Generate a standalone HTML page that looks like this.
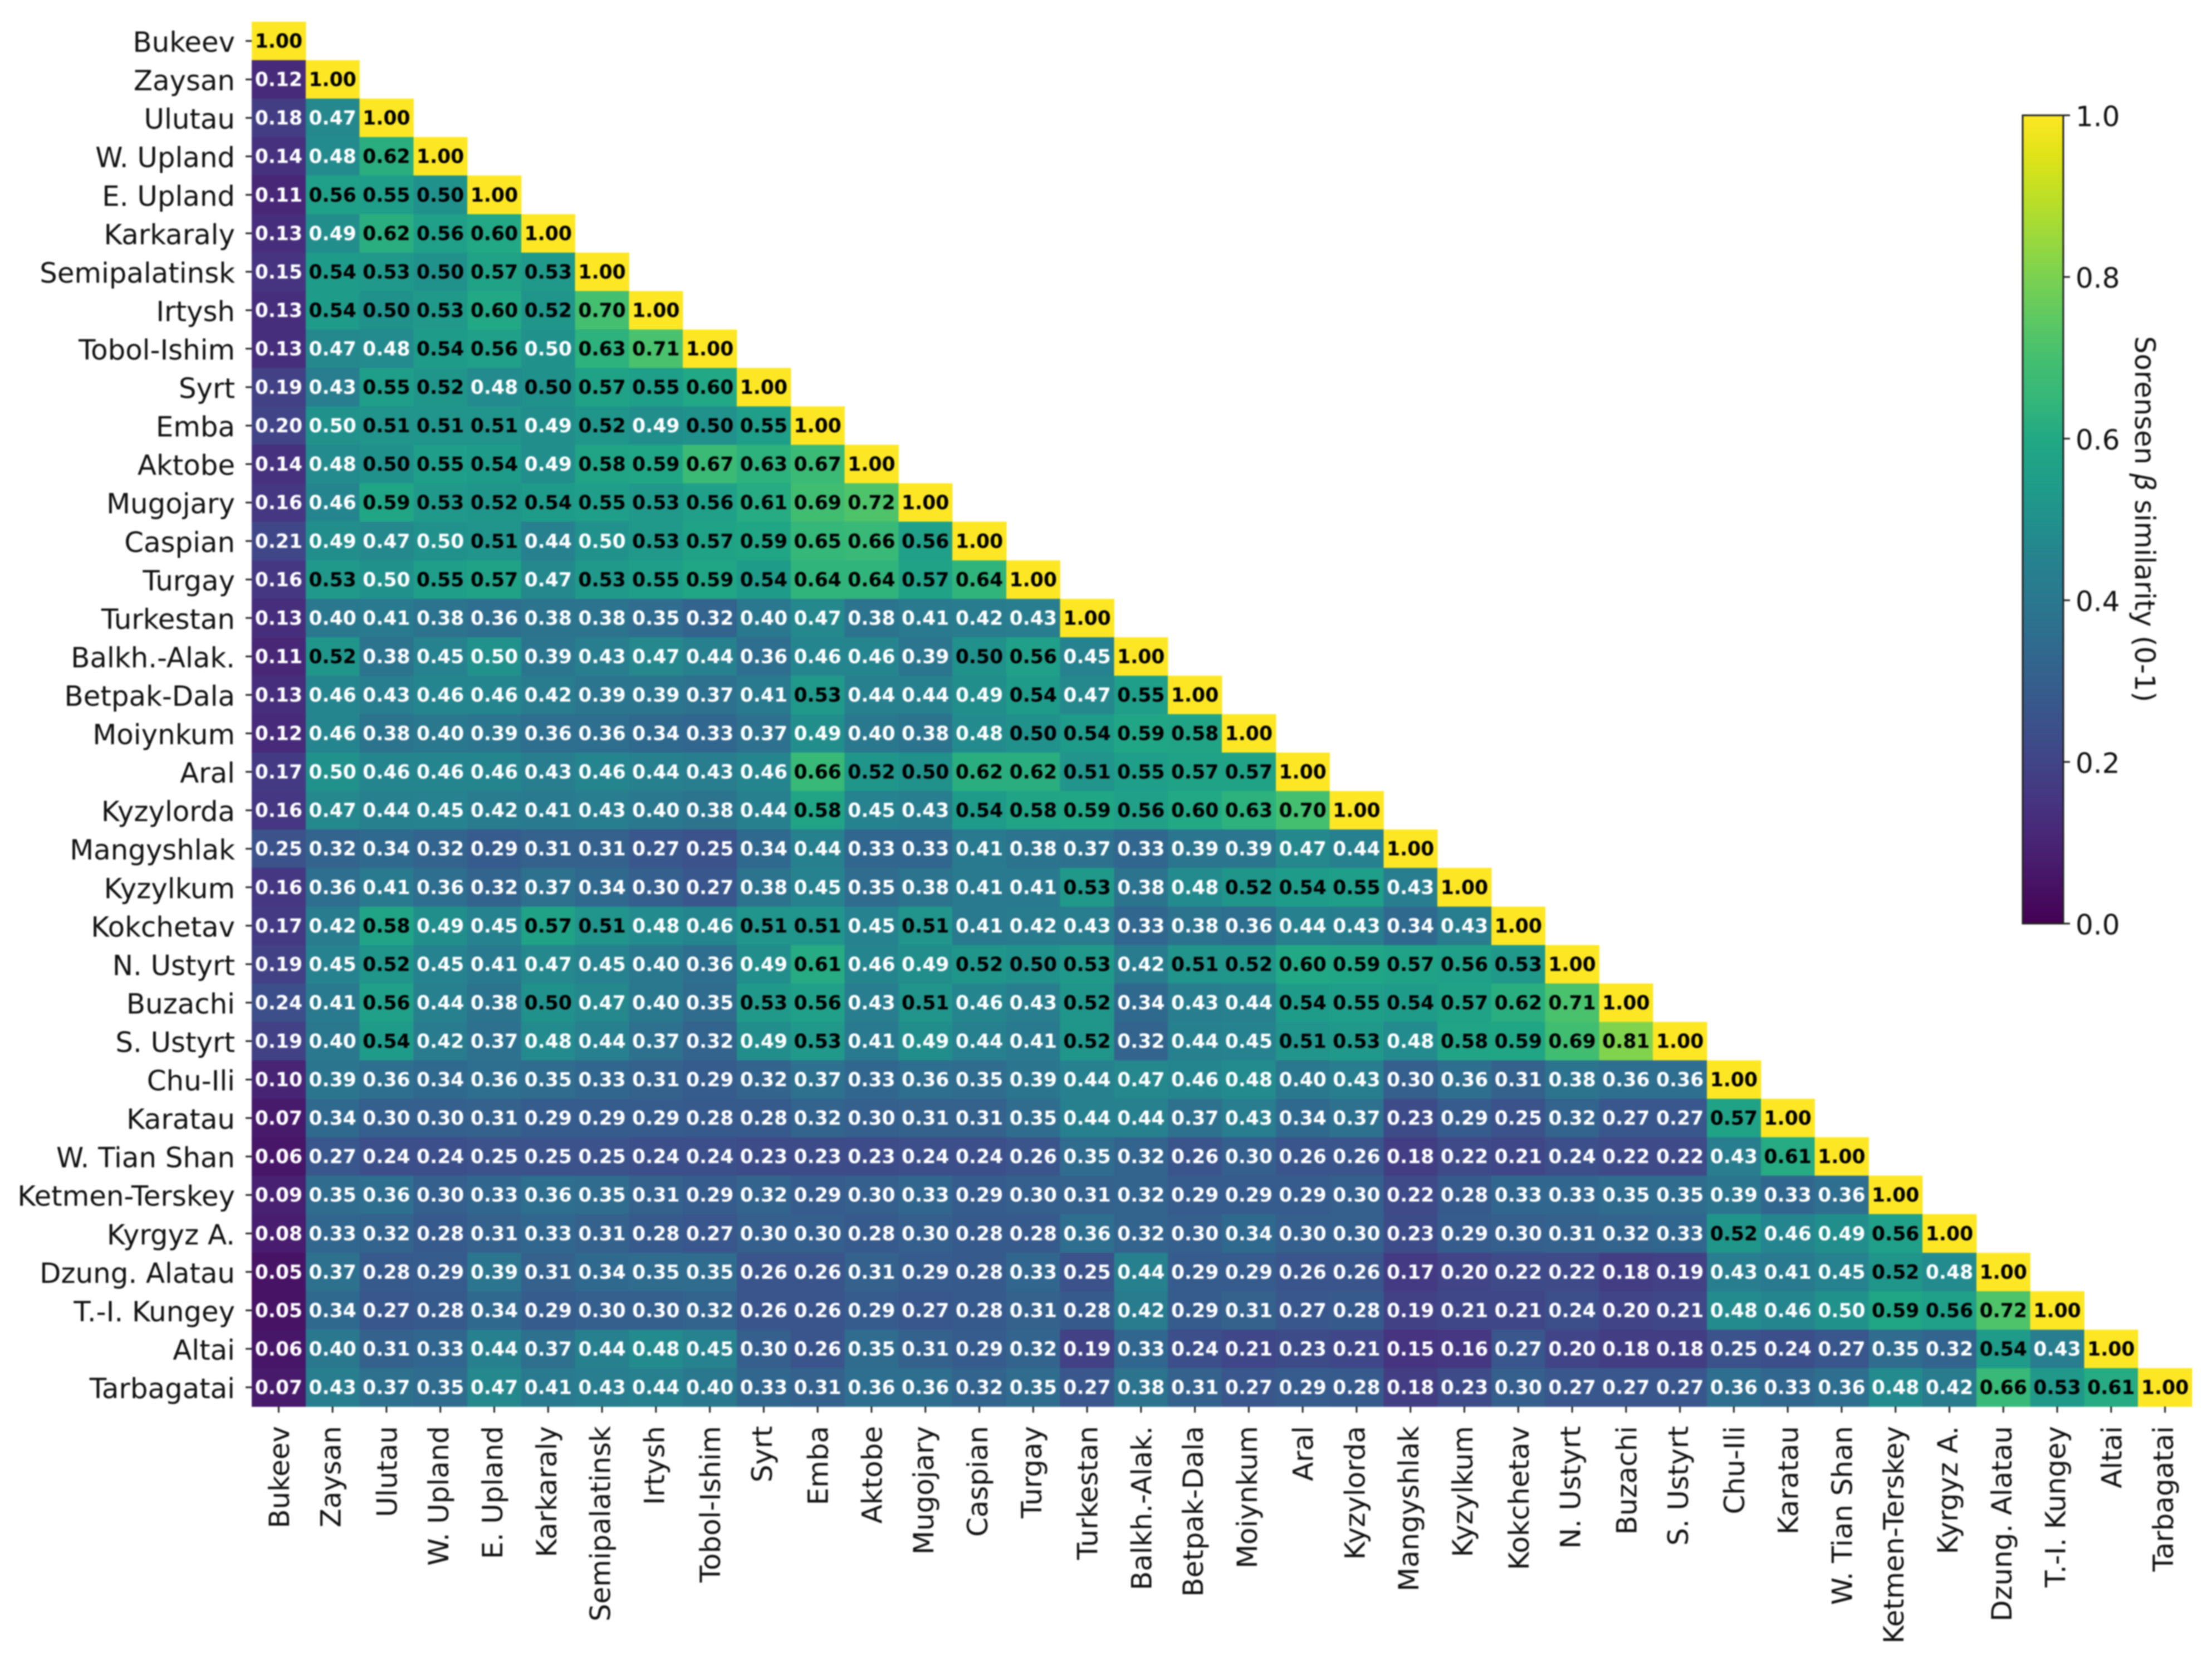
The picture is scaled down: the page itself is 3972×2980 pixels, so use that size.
<!DOCTYPE html>
<html lang="en">
<head>
<meta charset="utf-8">
<title>Sorensen β similarity heatmap</title>
<style>
html,body{margin:0;padding:0;background:#fff;}
svg{display:block;filter:blur(1.2px);}
text{font-family:"DejaVu Sans","Liberation Sans",sans-serif;}
</style>
</head>
<body>
<svg id="chart" xmlns="http://www.w3.org/2000/svg" width="3972" height="2980" viewBox="0 0 3972 2980">
  <rect x="0" y="0" width="3972" height="2980" fill="#ffffff"/>
  <defs><linearGradient id="cbarGradient" x1="0" y1="1" x2="0" y2="0"></linearGradient></defs>
  <g id="cells"></g>
  <g id="annotations"></g>
  <g id="yaxis"></g>
  <g id="xaxis"></g>
  <g id="colorbar"></g>
  <text transform="translate(3834,932) rotate(90)" text-anchor="middle" font-size="49.5" fill="#111">Sorensen <tspan font-style="italic">β</tspan> similarity (0-1)</text>
</svg>
<script>
const categories = ["Bukeev","Zaysan","Ulutau","W. Upland","E. Upland","Karkaraly","Semipalatinsk","Irtysh","Tobol-Ishim","Syrt","Emba","Aktobe","Mugojary","Caspian","Turgay","Turkestan","Balkh.-Alak.","Betpak-Dala","Moiynkum","Aral","Kyzylorda","Mangyshlak","Kyzylkum","Kokchetav","N. Ustyrt","Buzachi","S. Ustyrt","Chu-Ili","Karatau","W. Tian Shan","Ketmen-Terskey","Kyrgyz A.","Dzung. Alatau","T.-I. Kungey","Altai","Tarbagatai"];

const similarity = [
[1.00],
[.12,1.00],
[.18,.47,1.00],
[.14,.48,.62,1.00],
[.11,.56,.55,.50,1.00],
[.13,.49,.62,.56,.60,1.00],
[.15,.54,.53,.50,.57,.53,1.00],
[.13,.54,.50,.53,.60,.52,.70,1.00],
[.13,.47,.48,.54,.56,.499,.63,.71,1.00],
[.19,.43,.55,.52,.48,.50,.57,.55,.60,1.00],
[.20,.499,.51,.51,.51,.49,.52,.49,.50,.55,1.00],
[.14,.48,.50,.55,.54,.49,.58,.59,.67,.63,.67,1.00],
[.16,.46,.59,.53,.52,.54,.55,.53,.56,.61,.69,.72,1.00],
[.21,.49,.47,.499,.51,.44,.499,.53,.57,.59,.65,.66,.56,1.00],
[.16,.53,.499,.55,.57,.47,.53,.55,.59,.54,.64,.64,.57,.64,1.00],
[.13,.40,.41,.38,.36,.38,.38,.35,.32,.40,.47,.38,.41,.42,.43,1.00],
[.11,.52,.38,.45,.499,.39,.43,.47,.44,.36,.46,.46,.39,.50,.56,.45,1.00],
[.13,.46,.43,.46,.46,.42,.39,.39,.37,.41,.53,.44,.44,.49,.54,.47,.55,1.00],
[.12,.46,.38,.40,.39,.36,.36,.34,.33,.37,.49,.40,.38,.48,.50,.54,.59,.58,1.00],
[.17,.499,.46,.46,.46,.43,.46,.44,.43,.46,.66,.52,.50,.62,.62,.51,.55,.57,.57,1.00],
[.16,.47,.44,.45,.42,.41,.43,.40,.38,.44,.58,.45,.43,.54,.58,.59,.56,.60,.63,.70,1.00],
[.25,.32,.34,.32,.29,.31,.31,.27,.25,.34,.44,.33,.33,.41,.38,.37,.33,.39,.39,.47,.44,1.00],
[.16,.36,.41,.36,.32,.37,.34,.30,.27,.38,.45,.35,.38,.41,.41,.53,.38,.48,.52,.54,.55,.43,1.00],
[.17,.42,.58,.49,.45,.57,.51,.48,.46,.51,.51,.45,.51,.41,.42,.43,.33,.38,.36,.44,.43,.34,.43,1.00],
[.19,.45,.52,.45,.41,.47,.45,.40,.36,.49,.61,.46,.49,.52,.50,.53,.42,.51,.52,.60,.59,.57,.56,.53,1.00],
[.24,.41,.56,.44,.38,.50,.47,.40,.35,.53,.56,.43,.51,.46,.43,.52,.34,.43,.44,.54,.55,.54,.57,.62,.71,1.00],
[.19,.40,.54,.42,.37,.48,.44,.37,.32,.49,.53,.41,.49,.44,.41,.52,.32,.44,.45,.51,.53,.48,.58,.59,.69,.81,1.00],
[.10,.39,.36,.34,.36,.35,.33,.31,.29,.32,.37,.33,.36,.35,.39,.44,.47,.46,.48,.40,.43,.30,.36,.31,.38,.36,.36,1.00],
[.07,.34,.30,.30,.31,.29,.29,.29,.28,.28,.32,.30,.31,.31,.35,.44,.44,.37,.43,.34,.37,.23,.29,.25,.32,.27,.27,.57,1.00],
[.06,.27,.24,.24,.25,.25,.25,.24,.24,.23,.23,.23,.24,.24,.26,.35,.32,.26,.30,.26,.26,.18,.22,.21,.24,.22,.22,.43,.61,1.00],
[.09,.35,.36,.30,.33,.36,.35,.31,.29,.32,.29,.30,.33,.29,.30,.31,.32,.29,.29,.29,.30,.22,.28,.33,.33,.35,.35,.39,.33,.36,1.00],
[.08,.33,.32,.28,.31,.33,.31,.28,.27,.30,.30,.28,.30,.28,.28,.36,.32,.30,.34,.30,.30,.23,.29,.30,.31,.32,.33,.52,.46,.49,.56,1.00],
[.05,.37,.28,.29,.39,.31,.34,.35,.35,.26,.26,.31,.29,.28,.33,.25,.44,.29,.29,.26,.26,.17,.20,.22,.22,.18,.19,.43,.41,.45,.52,.48,1.00],
[.05,.34,.27,.28,.34,.29,.30,.30,.32,.26,.26,.29,.27,.28,.31,.28,.42,.29,.31,.27,.28,.19,.21,.21,.24,.20,.21,.48,.46,.499,.59,.56,.72,1.00],
[.06,.40,.31,.33,.44,.37,.44,.48,.45,.30,.26,.35,.31,.29,.32,.19,.33,.24,.21,.23,.21,.15,.16,.27,.20,.18,.18,.25,.24,.27,.35,.32,.54,.43,1.00],
[.07,.43,.37,.35,.47,.41,.43,.44,.40,.33,.31,.36,.36,.32,.35,.27,.38,.31,.27,.29,.28,.18,.23,.30,.27,.27,.27,.36,.33,.36,.48,.42,.66,.53,.61,1.00]
];

const colorbarTicks = [0, 0.2, 0.4, 0.6, 0.8, 1.0];

const NS = "http://www.w3.org/2000/svg";
const plot = {left: 452, right: 3936, top: 39, bottom: 2525};
const cbar = {left: 3632, right: 3705, top: 207, bottom: 1658};
const viridisStops = ["#440154","#471365","#482475","#463480","#414487","#3b528b","#355f8d","#2f6c8e","#2a788e","#26828e","#21918c","#1f9e89","#22a884","#35b779","#44bf70","#5ec962","#7ad151","#9bd93c","#bddf26","#dfe318","#fde725"];

function xScale(i){ return plot.left + (plot.right - plot.left) * i / categories.length; }
function yScale(i){ return plot.top + (plot.bottom - plot.top) * i / categories.length; }
function cbarY(v){ return cbar.bottom - (cbar.bottom - cbar.top) * v; }

function hexToRgb(h){ return [1,3,5].map(function(k){ return parseInt(h.substr(k,2),16); }); }
function viridis(v){
  const t = Math.max(0, Math.min(1, v)) * (viridisStops.length - 1);
  const i = Math.min(Math.floor(t), viridisStops.length - 2);
  const a = hexToRgb(viridisStops[i]);
  const b = hexToRgb(viridisStops[i + 1]);
  const f = t - i;
  return "rgb(" + a.map(function(c, k){ return Math.round(c + (b[k] - c) * f); }).join(",") + ")";
}
function make(tag, attrs, parent){
  const el = document.createElementNS(NS, tag);
  Object.keys(attrs).forEach(function(k){ el.setAttribute(k, attrs[k]); });
  parent.appendChild(el);
  return el;
}

const cellsG = document.getElementById("cells");
const annG = document.getElementById("annotations");
const yG = document.getElementById("yaxis");
const xG = document.getElementById("xaxis");
const cbG = document.getElementById("colorbar");
const cw = (plot.right - plot.left) / categories.length;
const ch = (plot.bottom - plot.top) / categories.length;

similarity.forEach(function(row, r){
  row.forEach(function(v, c){
    const rect = make("rect", {x: xScale(c), y: yScale(r), width: cw + 0.5, height: ch + 0.5, fill: viridis(v), "shape-rendering": "crispEdges"}, cellsG);
    
    
    const t = make("text", {x: xScale(c) + cw / 2, y: yScale(r) + ch / 2 + 12, "text-anchor": "middle", "font-size": 34.6, "font-weight": "bold", fill: v >= 0.5 ? "#000000" : "#ffffff"}, annG);
    t.textContent = v.toFixed(2);
    
    
  });
});

categories.forEach(function(name, i){
  const yc = yScale(i) + ch / 2;
  const xc = xScale(i) + cw / 2;
  const baselineShift = /[gjpqy]/.test(name) ? 14.5 : 18.5;

  const yt = make("line", {x1: plot.left - 11, x2: plot.left, y1: yc, y2: yc, stroke: "#222", "stroke-width": 3}, yG);
  
  
  const yl = make("text", {x: 422, y: yc + 19.5, "text-anchor": "end", "font-size": 49.8, fill: "#111"}, yG);
  yl.textContent = name;
  
  

  const xt = make("line", {x1: xc, x2: xc, y1: plot.bottom, y2: plot.bottom + 11, stroke: "#222", "stroke-width": 3}, xG);
  
  
  const xl = make("text", {transform: "translate(" + (xc + baselineShift) + ",2560) rotate(-90)", "text-anchor": "end", "font-size": 49.8, fill: "#111"}, xG);
  xl.textContent = name;
  
  
});

const grad = document.getElementById("cbarGradient");
viridisStops.forEach(function(col, i){
  make("stop", {offset: i / (viridisStops.length - 1), "stop-color": col}, grad);
});
const cbRect = make("rect", {x: cbar.left, y: cbar.top, width: cbar.right - cbar.left, height: cbar.bottom - cbar.top, fill: "url(#cbarGradient)", stroke: "#222", "stroke-width": 3}, cbG);


colorbarTicks.forEach(function(v){
  const y = cbarY(v);
  const tk = make("line", {x1: cbar.right, x2: cbar.right + 12, y1: y, y2: y, stroke: "#222", "stroke-width": 3}, cbG);
  
  
  const lb = make("text", {x: 3727, y: y + 19.5, "font-size": 50, fill: "#111"}, cbG);
  lb.textContent = v.toFixed(1);
  
  
});
</script>
</body>
</html>
